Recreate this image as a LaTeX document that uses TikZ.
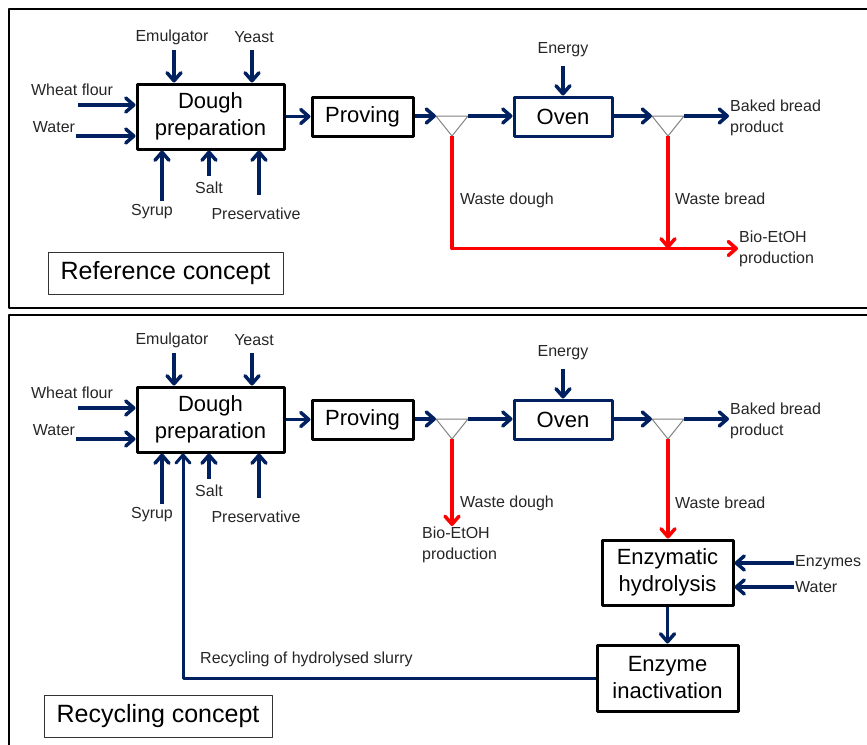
\documentclass[tikz,border=0pt]{standalone}
\usepackage{fontspec}
\setmainfont{Liberation Sans}
\usetikzlibrary{positioning,arrows.meta}
\definecolor{flowblue}{RGB}{0,32,96}
\definecolor{wastered}{RGB}{255,0,0}

\begin{document}
\begin{tikzpicture}[x=1pt, y=-1pt, line join=round,
                    unit/.style={draw=black, line width=3pt, align=center, inner sep=0pt,
                                 font=\fontsize{22}{27}\selectfont},
                    txt/.style={text=black!85, inner sep=1pt, align=left,
                                font=\fontsize{16}{21}\selectfont},
                    concept/.style={draw=black!80, line width=1pt, minimum height=42pt,
                                    font=\fontsize{25}{29}\selectfont},
                    flow/.style={flowblue, line width=3.5pt,
                                 -{Straight Barb[length=8pt,width=14pt,round]}},
                    waste/.style={flow, wastered},
                    split/.style={draw=gray, line width=1pt},
                    panel/.style={draw=black, line width=2pt}]
  \useasboundingbox (0,0) rectangle (867,744);
  \clip (0,0) rectangle (867,744);

  \def\drawLine{ % dough line, the same in both panels
    \node[unit, minimum width=147pt, minimum height=65pt] (dough-\p) at (210.5,116.5+\oy) {Dough\\preparation};
    \node[unit, minimum width=101pt, minimum height=39pt] (proving-\p) at (362.5,116.5+\oy) {Proving};
    \node[unit, draw=flowblue, minimum width=98pt, minimum height=39pt] (oven-\p) at (563,116.5+\oy) {Oven};
    % inputs from the left
    \foreach \n/\t/\lx/\ly/\ax/\ay in {flour/Wheat flour/72/90/78/105, water/Water/54/127/76/136}{
      \node[txt] (\n-\p) at (\lx,\ly+\oy) {\t};
      \coordinate (\n-in-\p) at (\ax,\ay+\oy);
      \draw[flow] (\n-in-\p) -- (\n-in-\p -| dough-\p.west);
    }
    % inputs from above
    \foreach \n/\t/\lx/\ly/\ax/\ay in {emul/Emulgator/172/37/174/50, yeast/Yeast/254/37/252/50}{
      \node[txt] (\n-\p) at (\lx,\ly+\oy) {\t};
      \coordinate (\n-in-\p) at (\ax,\ay+\oy);
      \draw[flow] (\n-in-\p) -- (\n-in-\p |- dough-\p.north);
    }
    % inputs from below
    \foreach \n/\t/\lx/\ly/\ax/\ay in {syrup/Syrup/152/212/162/201, salt/Salt/209/188/209/176,
                                      pres/Preservative/256/214/259/195}{
      \node[txt] (\n-\p) at (\lx,\ly+\oy) {\t};
      \coordinate (\n-in-\p) at (\ax,\ay+\oy);
      \draw[flow] (\n-in-\p) -- (\n-in-\p |- dough-\p.south);
    }
    % splitters
    \foreach \s/\x in {s1/452, s2/668}{
      \coordinate (\s-l-\p) at (\x-16,116+\oy);
      \coordinate (\s-r-\p) at (\x+16,116+\oy);
      \coordinate (\s-b-\p) at (\x,136+\oy);
      \draw[split] (\s-l-\p) -- (\s-r-\p) -- (\s-b-\p) -- cycle;
    }
    \node[txt] (energy-\p) at (563,50+\oy) {Energy};
    \coordinate (energy-in-\p) at (563,66+\oy);
    \node[txt, anchor=west] (baked-\p) at (729,117.5+\oy) {Baked bread\\product};
    \draw[flow] (dough-\p) -- (proving-\p);
    \draw[flow] (proving-\p.east |- s1-l-\p) -- (s1-l-\p);
    \draw[flow] (s1-r-\p) -- (s1-r-\p -| oven-\p.west);
    \draw[flow] (oven-\p.east |- s2-l-\p) -- (s2-l-\p);
    \draw[flow] (s2-r-\p) -- (s2-r-\p -| baked-\p.west);
    \draw[flow] (energy-in-\p) -- (oven-\p);
  }

  % panels
  \draw[panel] (9,9) rectangle (900,308);
  \draw[panel] (9,315) rectangle (900,760);

  \foreach \p/\oy in {a/0, b/303}{
    \drawLine
  }

  % reference concept
  \node[concept, minimum width=235pt] (ref) at (165.5,273) {Reference concept};
  \node[txt, anchor=west] (wdough-a) at (459,200) {Waste dough};
  \node[txt, anchor=west] (wbread-a) at (674,199) {Waste bread};
  \node[txt, anchor=west] (bio-a) at (738,248.5) {Bio-EtOH\\production};
  \draw[waste] (s1-b-a) |- (bio-a.west);
  \draw[waste] (s2-b-a) -- (s2-b-a |- bio-a.west);

  % recycling concept
  \node[concept, minimum width=228pt] (rec) at (158,716) {Recycling concept};
  \node[txt, anchor=west] (wdough-b) at (459,503) {Waste dough};
  \node[txt, anchor=west] (wbread-b) at (674,503) {Waste bread};
  \node[txt, anchor=north west] (bio-b) at (421,526) {Bio-EtOH\\production};
  \node[unit, minimum width=131pt, minimum height=65pt] (hydro) at (667.5,572.5) {Enzymatic\\hydrolysis};
  \node[unit, minimum width=141pt, minimum height=66pt] (inact) at (667.5,678) {Enzyme\\inactivation};
  \node[txt, anchor=west] (enzymes) at (794,563) {Enzymes};
  \node[txt, anchor=west] (water-h) at (794,587) {Water};
  \node[txt, anchor=west] (slurry) at (199,659) {Recycling of hydrolysed slurry};
  \coordinate (turn) at (183,678);
  \draw[waste] (s1-b-b) -- (s1-b-b |- bio-b.north);
  \draw[waste] (s2-b-b) -- (s2-b-b |- hydro.north);
  \draw[flow] (enzymes.west) -- (enzymes.west -| hydro.east);
  \draw[flow] (water-h.west) -- (water-h.west -| hydro.east);
  \draw[flow] (hydro) -- (inact);
  \draw[flow, line width=3pt] (inact.west) -- (turn) -- (turn |- dough-b.south);

\end{tikzpicture}
\end{document}
